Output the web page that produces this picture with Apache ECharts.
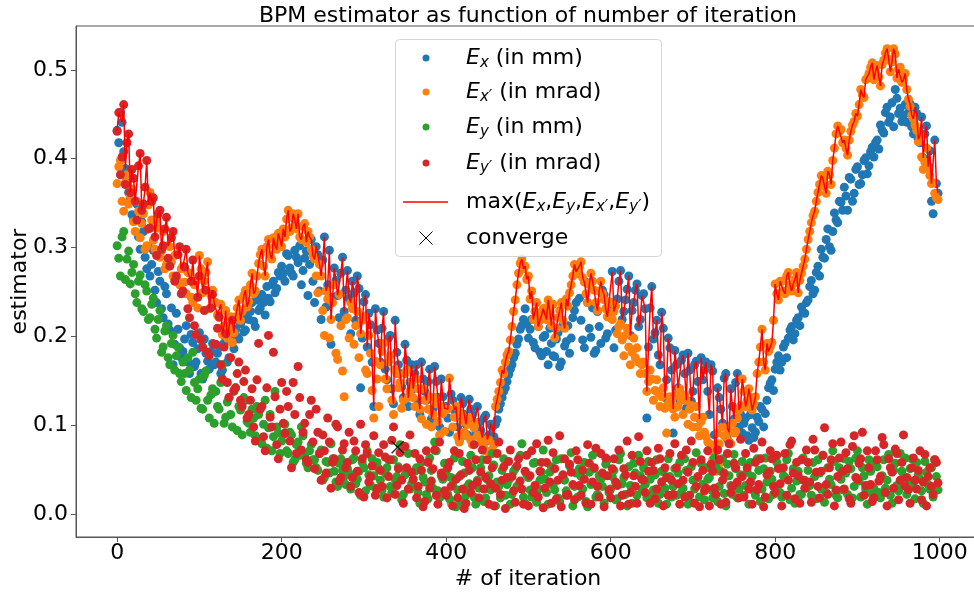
<!DOCTYPE html>
<html>
<head>
<meta charset="utf-8">
<script src="https://cdn.jsdelivr.net/npm/echarts@6.0.0/dist/echarts.min.js"></script>
<style>
  html, body { margin: 0; padding: 0; background: #fff; }
  #chart { width: 974px; height: 594px; }
</style>
</head>
<body>
<div id="chart"></div>
<script>
'use strict';

// samples are read every 2 iterations: the *Vals arrays hold iterations 0,4,8,...
// and the *Vals2 arrays hold iterations 2,6,10,...
const STEP = 4
const iterations = Array.from({ length: 250 }, (_, k) => k * STEP)
const iterations2 = iterations.map(it => it + 2)

// E_x (in mm)
const exVals = [
  0.432, 0.452, 0.408, 0.377, 0.356, 0.331, 0.349, 0.298, 0.318, 0.276,
  0.268, 0.297, 0.238, 0.262, 0.221, 0.248, 0.207, 0.168, 0.226, 0.187,
  0.183, 0.212, 0.158, 0.193, 0.171, 0.204, 0.152, 0.181, 0.163, 0.192,
  0.171, 0.189, 0.162, 0.198, 0.176, 0.193, 0.208, 0.197, 0.218, 0.207,
  0.219, 0.238, 0.211, 0.229, 0.247, 0.224, 0.243, 0.258, 0.249, 0.272,
  0.279, 0.262, 0.291, 0.271, 0.297, 0.283, 0.258, 0.288, 0.246, 0.309,
  0.238, 0.292, 0.219, 0.312, 0.258, 0.191, 0.277, 0.246, 0.271, 0.228,
  0.274, 0.203, 0.249, 0.268, 0.142, 0.239, 0.188, 0.213, 0.121, 0.207,
  0.171, 0.228, 0.151, 0.201, 0.124, 0.182, 0.158, 0.131, 0.173, 0.148,
  0.141, 0.168, 0.112, 0.152, 0.128, 0.163, 0.118, 0.149, 0.098, 0.132,
  0.121, 0.092, 0.128, 0.109, 0.083, 0.124, 0.101, 0.129, 0.112, 0.091,
  0.103, 0.086, 0.111, 0.089, 0.098, 0.101, 0.118, 0.131, 0.142, 0.157,
  0.168, 0.181, 0.197, 0.212, 0.231, 0.198, 0.219, 0.187, 0.211, 0.178,
  0.201, 0.168, 0.192, 0.177, 0.204, 0.171, 0.189, 0.212, 0.198, 0.229,
  0.271, 0.218, 0.187, 0.238, 0.199, 0.181, 0.228, 0.192, 0.247, 0.203,
  0.221, 0.187, 0.242, 0.274, 0.228, 0.253, 0.201, 0.238, 0.259, 0.219,
  0.248, 0.108, 0.232, 0.197, 0.218, 0.168, 0.209, 0.151, 0.187, 0.091,
  0.168, 0.128, 0.179, 0.119, 0.162, 0.138, 0.172, 0.107, 0.151, 0.171,
  0.112, 0.161, 0.062, 0.131, 0.102, 0.158, 0.092, 0.121, 0.148, 0.098,
  0.091, 0.108, 0.083, 0.097, 0.092, 0.104, 0.118, 0.113, 0.142, 0.151,
  0.163, 0.178, 0.171, 0.192, 0.198, 0.211, 0.203, 0.221, 0.233, 0.226,
  0.241, 0.263, 0.252, 0.279, 0.298, 0.288, 0.321, 0.297, 0.339, 0.328,
  0.351, 0.368, 0.342, 0.377, 0.361, 0.391, 0.372, 0.398, 0.383, 0.408,
  0.402, 0.421, 0.438, 0.429, 0.458, 0.447, 0.436, 0.468, 0.457, 0.449,
  0.441, 0.462, 0.428, 0.451, 0.418, 0.401, 0.437, 0.409, 0.338, 0.372
]
const exVals2 = [
  0.418, 0.441, 0.389, 0.362, 0.337, 0.352, 0.312, 0.329, 0.289, 0.301,
  0.281, 0.252, 0.273, 0.231, 0.256, 0.214, 0.232, 0.191, 0.208, 0.176,
  0.197, 0.171, 0.202, 0.166, 0.186, 0.158, 0.197, 0.172, 0.183, 0.168,
  0.181, 0.158, 0.192, 0.171, 0.202, 0.186, 0.199, 0.214, 0.205, 0.224,
  0.228, 0.217, 0.241, 0.232, 0.238, 0.256, 0.239, 0.262, 0.254, 0.268,
  0.271, 0.293, 0.277, 0.268, 0.289, 0.302, 0.274, 0.296, 0.281, 0.262,
  0.301, 0.251, 0.286, 0.233, 0.297, 0.244, 0.263, 0.221, 0.289, 0.252,
  0.243, 0.262, 0.218, 0.254, 0.198, 0.247, 0.226, 0.171, 0.231, 0.192,
  0.209, 0.163, 0.198, 0.141, 0.218, 0.168, 0.143, 0.191, 0.121, 0.168,
  0.158, 0.127, 0.171, 0.138, 0.149, 0.107, 0.166, 0.131, 0.152, 0.119,
  0.108, 0.135, 0.117, 0.098, 0.131, 0.112, 0.089, 0.118, 0.103, 0.121,
  0.094, 0.108, 0.082, 0.101, 0.087, 0.106, 0.124, 0.138, 0.149, 0.163,
  0.176, 0.191, 0.208, 0.219, 0.214, 0.208, 0.193, 0.221, 0.182, 0.199,
  0.183, 0.209, 0.178, 0.197, 0.166, 0.213, 0.194, 0.181, 0.221, 0.238,
  0.243, 0.196, 0.261, 0.209, 0.232, 0.184, 0.211, 0.252, 0.198, 0.229,
  0.273, 0.207, 0.262, 0.219, 0.241, 0.268, 0.229, 0.252, 0.211, 0.246,
  0.231, 0.188, 0.256, 0.204, 0.179, 0.227, 0.131, 0.198, 0.162, 0.184,
  0.142, 0.173, 0.158, 0.181, 0.127, 0.168, 0.149, 0.176, 0.162, 0.138,
  0.168, 0.089, 0.142, 0.118, 0.153, 0.084, 0.141, 0.107, 0.158, 0.112,
  0.102, 0.088, 0.112, 0.086, 0.109, 0.121, 0.098, 0.128, 0.147, 0.139,
  0.171, 0.162, 0.188, 0.176, 0.207, 0.196, 0.218, 0.212, 0.227, 0.238,
  0.256, 0.248, 0.272, 0.268, 0.289, 0.309, 0.301, 0.318, 0.331, 0.352,
  0.342, 0.358, 0.379, 0.352, 0.388, 0.371, 0.382, 0.401, 0.392, 0.413,
  0.418, 0.411, 0.432, 0.452, 0.441, 0.463, 0.478, 0.451, 0.442, 0.461,
  0.452, 0.436, 0.458, 0.422, 0.447, 0.428, 0.391, 0.352, 0.421, 0.361
]

// E_x' (in mrad)
const expVals = [
  0.372, 0.398, 0.341, 0.382, 0.358, 0.329, 0.352, 0.311, 0.338, 0.302,
  0.362, 0.308, 0.331, 0.289, 0.318, 0.281, 0.301, 0.268, 0.292, 0.258,
  0.279, 0.248, 0.271, 0.238, 0.262, 0.291, 0.249, 0.272, 0.231, 0.252,
  0.238, 0.221, 0.202, 0.229, 0.211, 0.193, 0.222, 0.241, 0.228, 0.252,
  0.239, 0.271, 0.251, 0.282, 0.298, 0.268, 0.309, 0.287, 0.302, 0.316,
  0.301, 0.312, 0.342, 0.322, 0.331, 0.338, 0.309, 0.327, 0.318, 0.298,
  0.287, 0.249, 0.268, 0.201, 0.242, 0.219, 0.258, 0.174, 0.212, 0.132,
  0.221, 0.238, 0.191, 0.228, 0.203, 0.222, 0.158, 0.181, 0.108, 0.152,
  0.168, 0.192, 0.141, 0.178, 0.112, 0.158, 0.148, 0.128, 0.162, 0.138,
  0.131, 0.152, 0.118, 0.141, 0.101, 0.132, 0.112, 0.124, 0.089, 0.113,
  0.042, 0.153, 0.098, 0.121, 0.081, 0.104, 0.088, 0.109, 0.078, 0.102,
  0.088, 0.079, 0.071, 0.083, 0.072, 0.121, 0.138, 0.162, 0.171, 0.183,
  0.211, 0.241, 0.271, 0.287, 0.279, 0.268, 0.251, 0.228, 0.211, 0.224,
  0.232, 0.241, 0.212, 0.198, 0.221, 0.238, 0.209, 0.234, 0.258, 0.281,
  0.272, 0.284, 0.261, 0.238, 0.271, 0.252, 0.229, 0.262, 0.241, 0.222,
  0.238, 0.228, 0.203, 0.214, 0.178, 0.209, 0.168, 0.198, 0.187, 0.158,
  0.171, 0.138, 0.162, 0.128, 0.151, 0.121, 0.142, 0.091, 0.132, 0.118,
  0.134, 0.141, 0.112, 0.128, 0.118, 0.098, 0.121, 0.088, 0.109, 0.087,
  0.071, 0.061, 0.048, 0.079, 0.098, 0.087, 0.081, 0.102, 0.093, 0.117,
  0.152, 0.121, 0.141, 0.117, 0.132, 0.171, 0.208, 0.162, 0.183, 0.193,
  0.259, 0.241, 0.262, 0.248, 0.272, 0.251, 0.264, 0.249, 0.271, 0.287,
  0.309, 0.328, 0.341, 0.362, 0.381, 0.369, 0.386, 0.371, 0.412, 0.437,
  0.433, 0.421, 0.404, 0.431, 0.442, 0.448, 0.478, 0.469, 0.491, 0.503,
  0.489, 0.505, 0.482, 0.511, 0.524, 0.498, 0.524, 0.491, 0.503, 0.489,
  0.478, 0.459, 0.445, 0.432, 0.426, 0.388, 0.412, 0.381, 0.373, 0.356
]
const expVals2 = [
  0.391, 0.352, 0.373, 0.349, 0.366, 0.318, 0.341, 0.327, 0.298, 0.348,
  0.331, 0.298, 0.322, 0.296, 0.276, 0.302, 0.284, 0.291, 0.262, 0.276,
  0.261, 0.272, 0.244, 0.258, 0.232, 0.276, 0.262, 0.284, 0.246, 0.238,
  0.224, 0.236, 0.212, 0.198, 0.222, 0.204, 0.232, 0.218, 0.246, 0.233,
  0.258, 0.248, 0.268, 0.292, 0.279, 0.301, 0.292, 0.311, 0.298, 0.309,
  0.321, 0.332, 0.318, 0.338, 0.321, 0.312, 0.324, 0.306, 0.312, 0.291,
  0.268, 0.281, 0.229, 0.251, 0.198, 0.238, 0.181, 0.247, 0.161, 0.219,
  0.198, 0.231, 0.212, 0.176, 0.218, 0.162, 0.201, 0.139, 0.172, 0.121,
  0.183, 0.152, 0.171, 0.128, 0.163, 0.142, 0.119, 0.158, 0.131, 0.148,
  0.121, 0.141, 0.107, 0.128, 0.118, 0.098, 0.131, 0.104, 0.121, 0.093,
  0.118, 0.012, 0.109, 0.087, 0.113, 0.092, 0.101, 0.083, 0.097, 0.088,
  0.081, 0.074, 0.084, 0.069, 0.078, 0.129, 0.148, 0.158, 0.179, 0.196,
  0.228, 0.258, 0.282, 0.276, 0.264, 0.242, 0.219, 0.238, 0.218, 0.231,
  0.219, 0.228, 0.236, 0.209, 0.229, 0.218, 0.242, 0.249, 0.268, 0.273,
  0.279, 0.266, 0.248, 0.258, 0.262, 0.238, 0.251, 0.248, 0.231, 0.239,
  0.219, 0.234, 0.211, 0.196, 0.201, 0.188, 0.182, 0.176, 0.171, 0.168,
  0.158, 0.149, 0.152, 0.139, 0.136, 0.132, 0.119, 0.124, 0.128, 0.109,
  0.121, 0.128, 0.134, 0.101, 0.122, 0.109, 0.098, 0.104, 0.092, 0.081,
  0.078, 0.069, 0.091, 0.058, 0.088, 0.096, 0.079, 0.091, 0.108, 0.122,
  0.138, 0.128, 0.131, 0.124, 0.158, 0.188, 0.171, 0.192, 0.188, 0.218,
  0.248, 0.262, 0.251, 0.268, 0.258, 0.259, 0.272, 0.263, 0.279, 0.298,
  0.318, 0.336, 0.352, 0.371, 0.378, 0.361, 0.382, 0.398, 0.428, 0.431,
  0.418, 0.412, 0.421, 0.438, 0.451, 0.461, 0.472, 0.489, 0.496, 0.508,
  0.498, 0.492, 0.506, 0.519, 0.512, 0.509, 0.518, 0.501, 0.486, 0.496,
  0.467, 0.449, 0.438, 0.419, 0.402, 0.396, 0.389, 0.372, 0.361, 0.354
]

// E_y (in mm)
const eyVals = [
  0.302, 0.268, 0.318, 0.287, 0.259, 0.281, 0.238, 0.269, 0.228, 0.251,
  0.221, 0.243, 0.198, 0.229, 0.188, 0.212, 0.168, 0.201, 0.178, 0.158,
  0.171, 0.139, 0.162, 0.182, 0.128, 0.152, 0.118, 0.161, 0.108, 0.141,
  0.138, 0.118, 0.168, 0.109, 0.131, 0.098, 0.142, 0.121, 0.089, 0.128,
  0.102, 0.118, 0.088, 0.112, 0.079, 0.128, 0.097, 0.071, 0.138, 0.091,
  0.082, 0.101, 0.068, 0.089, 0.061, 0.081, 0.098, 0.067, 0.052, 0.078,
  0.061, 0.049, 0.072, 0.041, 0.058, 0.079, 0.048, 0.031, 0.062, 0.042,
  0.051, 0.028, 0.063, 0.039, 0.021, 0.052, 0.071, 0.032, 0.043, 0.058,
  0.038, 0.019, 0.052, 0.031, 0.061, 0.042, 0.078, 0.022, 0.049, 0.028,
  0.031, 0.052, 0.012, 0.041, 0.022, 0.063, 0.029, 0.071, 0.018, 0.039,
  0.048, 0.017, 0.032, 0.008, 0.042, 0.059, 0.021, 0.034, 0.052, 0.011,
  0.029, 0.061, 0.018, 0.043, 0.068, 0.009, 0.031, 0.049, 0.021, 0.038,
  0.022, 0.051, 0.033, 0.079, 0.012, 0.041, 0.019, 0.058, 0.028, 0.047,
  0.039, 0.011, 0.053, 0.027, 0.018, 0.062, 0.038, 0.021, 0.069, 0.031,
  0.019, 0.042, 0.058, 0.008, 0.033, 0.051, 0.022, 0.039, 0.012, 0.061,
  0.028, 0.049, 0.017, 0.068, 0.041, 0.009, 0.032, 0.057, 0.021, 0.043,
  0.052, 0.018, 0.039, 0.027, 0.061, 0.022, 0.048, 0.011, 0.042, 0.031,
  0.021, 0.058, 0.029, 0.049, 0.013, 0.038, 0.069, 0.019, 0.033, 0.052,
  0.041, 0.018, 0.053, 0.031, 0.062, 0.009, 0.043, 0.022, 0.051, 0.028,
  0.059, 0.032, 0.011, 0.042, 0.021, 0.049, 0.028, 0.063, 0.017, 0.039,
  0.031, 0.052, 0.019, 0.041, 0.068, 0.029, 0.012, 0.048, 0.022, 0.038,
  0.049, 0.021, 0.042, 0.061, 0.028, 0.013, 0.052, 0.033, 0.059, 0.018,
  0.039, 0.062, 0.022, 0.051, 0.031, 0.071, 0.019, 0.043, 0.011, 0.048,
  0.029, 0.053, 0.018, 0.061, 0.038, 0.021, 0.049, 0.032, 0.068, 0.041,
  0.022, 0.051, 0.031, 0.058, 0.039, 0.012, 0.047, 0.028, 0.019, 0.042
]
const eyVals2 = [
  0.288, 0.312, 0.264, 0.296, 0.272, 0.248, 0.262, 0.231, 0.258, 0.219,
  0.236, 0.208, 0.219, 0.182, 0.206, 0.176, 0.192, 0.162, 0.188, 0.149,
  0.158, 0.176, 0.131, 0.148, 0.141, 0.119, 0.156, 0.128, 0.134, 0.102,
  0.121, 0.148, 0.102, 0.126, 0.112, 0.138, 0.094, 0.117, 0.131, 0.104,
  0.092, 0.108, 0.121, 0.083, 0.101, 0.074, 0.112, 0.087, 0.098, 0.068,
  0.089, 0.071, 0.092, 0.058, 0.078, 0.066, 0.088, 0.057, 0.071, 0.061,
  0.052, 0.068, 0.038, 0.059, 0.046, 0.062, 0.036, 0.057, 0.049, 0.033,
  0.046, 0.061, 0.034, 0.048, 0.058, 0.026, 0.044, 0.062, 0.029, 0.051,
  0.027, 0.046, 0.061, 0.024, 0.039, 0.053, 0.016, 0.044, 0.068, 0.034,
  0.048, 0.024, 0.058, 0.036, 0.017, 0.049, 0.081, 0.026, 0.043, 0.057,
  0.022, 0.041, 0.063, 0.027, 0.014, 0.046, 0.031, 0.066, 0.019, 0.038,
  0.052, 0.014, 0.039, 0.027, 0.055, 0.036, 0.018, 0.062, 0.033, 0.011,
  0.048, 0.031, 0.066, 0.019, 0.044, 0.027, 0.057, 0.013, 0.038, 0.072,
  0.024, 0.047, 0.032, 0.061, 0.014, 0.043, 0.026, 0.054, 0.009, 0.046,
  0.051, 0.028, 0.014, 0.047, 0.066, 0.019, 0.043, 0.031, 0.056, 0.024,
  0.042, 0.016, 0.061, 0.034, 0.022, 0.053, 0.012, 0.046, 0.066, 0.028,
  0.033, 0.059, 0.021, 0.044, 0.012, 0.048, 0.029, 0.062, 0.019, 0.051,
  0.046, 0.024, 0.062, 0.011, 0.053, 0.028, 0.041, 0.057, 0.016, 0.039,
  0.027, 0.063, 0.014, 0.048, 0.023, 0.056, 0.032, 0.067, 0.018, 0.044,
  0.021, 0.047, 0.058, 0.026, 0.062, 0.014, 0.051, 0.036, 0.048, 0.022,
  0.058, 0.024, 0.043, 0.061, 0.016, 0.051, 0.037, 0.022, 0.063, 0.029,
  0.032, 0.058, 0.017, 0.046, 0.066, 0.024, 0.039, 0.071, 0.021, 0.052,
  0.027, 0.046, 0.059, 0.018, 0.063, 0.037, 0.052, 0.028, 0.061, 0.022,
  0.058, 0.024, 0.043, 0.029, 0.067, 0.012, 0.057, 0.026, 0.048, 0.063,
  0.038, 0.062, 0.017, 0.044, 0.026, 0.059, 0.033, 0.052, 0.061, 0.027
]

// E_y' (in mrad)
const eypVals = [
  0.431, 0.382, 0.461, 0.418, 0.362, 0.378, 0.331, 0.406, 0.349, 0.398,
  0.322, 0.356, 0.291, 0.342, 0.302, 0.334, 0.279, 0.318, 0.268, 0.301,
  0.251, 0.298, 0.221, 0.286, 0.202, 0.268, 0.188, 0.252, 0.178, 0.247,
  0.191, 0.222, 0.152, 0.203, 0.131, 0.218, 0.142, 0.171, 0.121, 0.162,
  0.112, 0.141, 0.082, 0.192, 0.121, 0.071, 0.201, 0.098, 0.132, 0.062,
  0.148, 0.091, 0.121, 0.052, 0.112, 0.166, 0.072, 0.102, 0.058, 0.128,
  0.051, 0.092, 0.038, 0.071, 0.108, 0.029, 0.062, 0.098, 0.041, 0.079,
  0.058, 0.031, 0.082, 0.048, 0.101, 0.019, 0.068, 0.042, 0.088, 0.028,
  0.049, 0.078, 0.018, 0.061, 0.098, 0.032, 0.069, 0.012, 0.052, 0.089,
  0.039, 0.018, 0.062, 0.008, 0.071, 0.029, 0.051, 0.021, 0.081, 0.042,
  0.021, 0.058, 0.009, 0.039, 0.068, 0.028, 0.012, 0.049, 0.032, 0.061,
  0.018, 0.072, 0.041, 0.011, 0.052, 0.029, 0.081, 0.038, 0.006, 0.059,
  0.042, 0.013, 0.062, 0.028, 0.048, 0.009, 0.071, 0.032, 0.019, 0.058,
  0.029, 0.083, 0.012, 0.051, 0.038, 0.008, 0.062, 0.022, 0.047, 0.016,
  0.061, 0.021, 0.039, 0.078, 0.011, 0.052, 0.031, 0.068, 0.008, 0.043,
  0.018, 0.062, 0.032, 0.009, 0.051, 0.082, 0.024, 0.043, 0.012, 0.059,
  0.038, 0.071, 0.012, 0.049, 0.028, 0.062, 0.009, 0.041, 0.068, 0.022,
  0.052, 0.011, 0.038, 0.072, 0.021, 0.058, 0.031, 0.008, 0.049, 0.029,
  0.009, 0.048, 0.022, 0.061, 0.038, 0.013, 0.079, 0.031, 0.052, 0.018,
  0.042, 0.068, 0.028, 0.011, 0.058, 0.033, 0.081, 0.019, 0.047, 0.062,
  0.024, 0.051, 0.009, 0.068, 0.038, 0.082, 0.017, 0.043, 0.061, 0.029,
  0.058, 0.013, 0.072, 0.031, 0.048, 0.097, 0.022, 0.061, 0.009, 0.042,
  0.081, 0.028, 0.051, 0.012, 0.088, 0.039, 0.062, 0.021, 0.071, 0.033,
  0.018, 0.061, 0.042, 0.078, 0.009, 0.052, 0.029, 0.068, 0.038, 0.089,
  0.041, 0.012, 0.063, 0.028, 0.071, 0.036, 0.009, 0.052, 0.022, 0.058
]
const eypVals2 = [
  0.452, 0.402, 0.371, 0.428, 0.388, 0.352, 0.392, 0.342, 0.368, 0.321,
  0.352, 0.312, 0.338, 0.298, 0.321, 0.288, 0.311, 0.262, 0.292, 0.248,
  0.278, 0.231, 0.262, 0.212, 0.244, 0.196, 0.229, 0.182, 0.232, 0.191,
  0.209, 0.168, 0.188, 0.148, 0.176, 0.139, 0.158, 0.128, 0.149, 0.108,
  0.128, 0.098, 0.151, 0.118, 0.087, 0.142, 0.109, 0.182, 0.078, 0.118,
  0.102, 0.138, 0.082, 0.148, 0.068, 0.131, 0.092, 0.061, 0.112, 0.081,
  0.118, 0.068, 0.089, 0.046, 0.081, 0.058, 0.101, 0.037, 0.072, 0.052,
  0.092, 0.041, 0.071, 0.024, 0.062, 0.078, 0.036, 0.054, 0.021, 0.069,
  0.031, 0.064, 0.042, 0.083, 0.022, 0.051, 0.038, 0.076, 0.028, 0.047,
  0.068, 0.031, 0.049, 0.014, 0.058, 0.037, 0.072, 0.011, 0.046, 0.026,
  0.052, 0.031, 0.071, 0.018, 0.044, 0.006, 0.057, 0.024, 0.078, 0.036,
  0.047, 0.028, 0.061, 0.034, 0.009, 0.068, 0.022, 0.053, 0.041, 0.072,
  0.026, 0.054, 0.037, 0.011, 0.066, 0.043, 0.024, 0.079, 0.048, 0.007,
  0.058, 0.036, 0.069, 0.017, 0.088, 0.044, 0.021, 0.056, 0.033, 0.071,
  0.032, 0.049, 0.012, 0.057, 0.036, 0.074, 0.019, 0.046, 0.063, 0.027,
  0.051, 0.036, 0.072, 0.021, 0.044, 0.011, 0.066, 0.031, 0.087, 0.039,
  0.024, 0.048, 0.058, 0.017, 0.074, 0.036, 0.052, 0.021, 0.038, 0.079,
  0.034, 0.066, 0.019, 0.047, 0.082, 0.012, 0.042, 0.061, 0.026, 0.071,
  0.056, 0.029, 0.072, 0.011, 0.046, 0.068, 0.024, 0.057, 0.036, 0.084,
  0.019, 0.052, 0.036, 0.074, 0.027, 0.062, 0.008, 0.044, 0.071, 0.031,
  0.066, 0.034, 0.052, 0.021, 0.078, 0.046, 0.058, 0.012, 0.038, 0.072,
  0.036, 0.084, 0.047, 0.018, 0.066, 0.033, 0.052, 0.079, 0.027, 0.063,
  0.048, 0.069, 0.017, 0.076, 0.041, 0.057, 0.092, 0.032, 0.052, 0.014,
  0.071, 0.037, 0.086, 0.024, 0.062, 0.047, 0.073, 0.016, 0.058, 0.031,
  0.027, 0.052, 0.038, 0.049, 0.016, 0.067, 0.042, 0.031, 0.061, 0.035
]

// convergence point
const convergeIter = [341]
const convergeVal = [0.075]

const xTicks = [0, 200, 400, 600, 800, 1000]
const yTicks = [0, 0.1, 0.2, 0.3, 0.4, 0.5]

const FONT = 'DejaVu Sans'
const COLORS = ['#1f77b4', '#ff7f0e', '#2ca02c', '#d62728']

// merge the two sample sets in iteration order
const merge = (a, b) => {
    const out = []
    iterations.forEach((it, k) => {
        out.push([it, a[k]])
        out.push([iterations2[k], b[k]])
    })
    return out
}
const exData = merge(exVals, exVals2)
const expData = merge(expVals, expVals2)
const eyData = merge(eyVals, eyVals2)
const eypData = merge(eypVals, eypVals2)
const maxData = exData.map((p, i) => [p[0], Math.max(p[1], expData[i][1], eyData[i][1], eypData[i][1])])

// hand-built legend (matplotlib style box)
const rich = {
    e: { fontFamily: FONT, fontStyle: 'italic', fontSize: 22, lineHeight: 26, fill: '#000' },
    s: { fontFamily: FONT, fontStyle: 'italic', fontSize: 15, lineHeight: 12, verticalAlign: 'bottom', fill: '#000' }
}
const legendRows = [
    { y: 58, text: '{e|E}{s|x} (in mm)' },
    { y: 92, text: '{e|E}{s|x′} (in mrad)' },
    { y: 127, text: '{e|E}{s|y} (in mm)' },
    { y: 163, text: '{e|E}{s|y′} (in mrad)' },
    { y: 202, text: 'max({e|E}{s|x},{e|E}{s|y},{e|E}{s|x′},{e|E}{s|y′})' },
    { y: 238, text: 'converge' }
]
const legendGraphics = [{
    type: 'rect',
    z: 20,
    shape: { x: 395.5, y: 39.5, width: 266, height: 217, r: 4 },
    style: { fill: 'rgba(255,255,255,0.8)', stroke: '#d4d4d4', lineWidth: 1 }
}]
legendRows.forEach((row, i) => {
    legendGraphics.push({
        type: 'text',
        z: 21,
        x: 466,
        y: row.y,
        style: {
            text: row.text,
            fontFamily: FONT,
            fontSize: 22,
            lineHeight: 26,
            fill: '#000',
            verticalAlign: 'middle',
            rich: rich
        }
    })
    if (i < 4) {
        legendGraphics.push({
            type: 'circle', z: 21,
            shape: { cx: 426, cy: row.y, r: 3.5 },
            style: { fill: COLORS[i] }
        })
    }
})
legendGraphics.push({
    type: 'line', z: 21,
    shape: { x1: 403, y1: 202, x2: 448, y2: 202 },
    style: { stroke: '#ff0000', lineWidth: 1.5 }
})
legendGraphics.push({
    type: 'line', z: 21,
    shape: { x1: 419.5, y1: 231.5, x2: 432.5, y2: 244.5 },
    style: { stroke: '#000', lineWidth: 1 }
})
legendGraphics.push({
    type: 'line', z: 21,
    shape: { x1: 432.5, y1: 231.5, x2: 419.5, y2: 244.5 },
    style: { stroke: '#000', lineWidth: 1 }
})

const scatter = (name, data, color) => ({
    name: name,
    type: 'scatter',
    data: data,
    symbol: 'circle',
    symbolSize: 9,
    itemStyle: { color: color, opacity: 1 },
    emphasis: { disabled: true }
})

const chart = echarts.init(document.getElementById('chart'))

const option = {
    animation: false,
    backgroundColor: '#fff',
    title: {
        text: 'BPM estimator as function of number of iteration',
        left: 523,
        top: 0,
        textAlign: 'center',
        textStyle: { fontFamily: FONT, fontSize: 22, fontWeight: 'normal', color: '#000' }
    },
    graphic: legendGraphics,
    grid: {
        left: 76,
        right: -6,
        top: 26,
        bottom: 57,
        containLabel: false,
        outerBoundsMode: 'none',
        show: true,
        borderColor: '#555',
        borderWidth: 1,
        backgroundColor: 'transparent'
    },
    xAxis: {
        type: 'value',
        min: -50,
        max: 1049,
        name: '# of iteration',
        nameLocation: 'middle',
        nameGap: 31,
        nameMoveOverlap: false,
        nameTextStyle: { fontFamily: FONT, fontSize: 22, color: '#000' },
        axisLine: { show: true, onZero: false, lineStyle: { color: '#555', width: 1 } },
        axisTick: { show: true, length: 5, lineStyle: { color: '#555' }, customValues: xTicks },
        axisLabel: {
            fontFamily: FONT, fontSize: 22, color: '#000', margin: 5, customValues: xTicks,
            formatter: (v) => String(v)
        },
        splitLine: { show: false }
    },
    yAxis: {
        type: 'value',
        min: -0.026,
        max: 0.5495,
        name: 'estimator',
        nameLocation: 'middle',
        nameGap: 45,
        nameMoveOverlap: false,
        nameTextStyle: { fontFamily: FONT, fontSize: 22, color: '#000' },
        axisLine: { show: true, onZero: false, lineStyle: { color: '#555', width: 1 } },
        axisTick: { show: true, length: 5, lineStyle: { color: '#555' }, customValues: yTicks },
        axisLabel: {
            fontFamily: FONT, fontSize: 22, color: '#000', margin: 8, customValues: yTicks,
            formatter: (v) => v.toFixed(1)
        },
        splitLine: { show: false }
    },
    series: [
        scatter('Ex', exData, COLORS[0]),
        scatter('Exp', expData, COLORS[1]),
        scatter('Ey', eyData, COLORS[2]),
        scatter('Eyp', eypData, COLORS[3]),
        {
            name: 'max',
            type: 'line',
            data: maxData,
            symbol: 'none',
            lineStyle: { color: '#ff0000', width: 1.5 },
            emphasis: { disabled: true }
        },
        {
            name: 'converge',
            type: 'scatter',
            data: convergeIter.map((it, k) => [it, convergeVal[k]]),
            symbol: 'path://M0,8L8,0L50,42L92,0L100,8L58,50L100,92L92,100L50,58L8,100L0,92L42,50Z',
            symbolSize: 13,
            itemStyle: { color: '#000' },
            emphasis: { disabled: true }
        }
    ]
}

chart.setOption(option)
</script>
</body>
</html>
